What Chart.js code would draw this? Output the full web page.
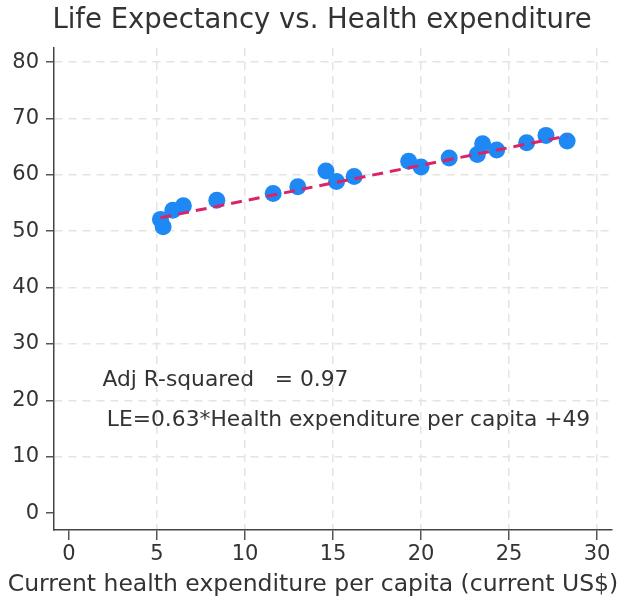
<!DOCTYPE html>
<html>
<head>
<meta charset="utf-8">
<script src="https://cdn.jsdelivr.net/npm/chart.js@4.4.0/dist/chart.umd.min.js"></script>
<style>
    html, body { margin: 0; padding: 0; background: #fff; }
    #wrap { width: 625px; height: 600px; }
</style>
</head>
<body>
<div id="wrap"><canvas id="chart" width="625" height="600"></canvas></div>
<script>
const healthSpend = [5.2, 5.35, 5.9, 6.5, 8.4, 11.6, 13.0, 14.6, 15.2, 16.2, 19.3, 20.0, 21.6, 23.2, 23.5, 24.3, 26.0, 27.1, 28.3];
const lifeExp     = [52.1, 50.8, 53.7, 54.5, 55.5, 56.7, 57.9, 60.7, 58.8, 59.7, 62.4, 61.4, 63.0, 63.6, 65.5, 64.4, 65.7, 67.0, 66.0];

const fitX = [5.2, 28.3];
const fitY = [52.4, 66.9];

const xTicks = [0, 5, 10, 15, 20, 25, 30];
const yTicks = [0, 10, 20, 30, 40, 50, 60, 70, 80];

const titleText  = 'Life Expectancy vs. Health expenditure';
const xTitleText = 'Current health expenditure per capita (current US$)';
const noteLines  = ['Adj R-squared   = 0.97', 'LE=0.63*Health expenditure per capita +49'];

const FONT = '"DejaVu Sans", sans-serif';
const TEXT = '#333';

const gridColor = ctx => (ctx.tick && ctx.tick.value === 0) ? 'rgba(0,0,0,0)' : '#e4e4e4';

// texts that sit outside chart.js's own title/axis boxes
const textPlugin = {
    id: 'texts',
    afterDraw(chart) {
        const { ctx, scales: { x, y } } = chart;
        ctx.save();
        ctx.fillStyle = TEXT;
        ctx.textBaseline = 'middle';
        ctx.textAlign = 'center';
        ctx.font = `27.5px ${FONT}`;
        ctx.fillText(titleText, 322, 21);
        ctx.font = `23.5px ${FONT}`;
        ctx.fillText(xTitleText, 313, 585);
        ctx.font = `21.8px ${FONT}`;
        ctx.textAlign = 'left';
        ctx.fillText(noteLines[0], x.getPixelForValue(1.9), y.getPixelForValue(23.6));
        ctx.fillText(noteLines[1], x.getPixelForValue(2.15), y.getPixelForValue(16.5));
        ctx.restore();
    }
};

new Chart(document.getElementById('chart'), {
    type: 'scatter',
    data: {
        datasets: [
            {
                label: 'Fit',
                data: fitX.map((v, i) => ({ x: v, y: fitY[i] })),
                showLine: true,
                borderColor: '#d9246a',
                borderWidth: 3,
                borderDash: [11, 7],
                pointRadius: 0,
                order: 0,
            },
            {
                label: 'Countries',
                data: healthSpend.map((v, i) => ({ x: v, y: lifeExp[i] })),
                backgroundColor: '#1e88f5',
                borderColor: '#1e88f5',
                pointRadius: 8.5,
                borderWidth: 0,
                order: 1,
            },
        ]
    },
    options: {
        responsive: false,
        animation: false,
        layout: { padding: { top: 48, right: 13, left: 0, bottom: 0 } },
        plugins: {
            legend: { display: false },
            tooltip: { enabled: false },
            title: { display: false },
        },
        scales: {
            x: {
                type: 'linear',
                min: -0.85, max: 30.85,
                afterBuildTicks: s => { s.ticks = xTicks.map(v => ({ value: v })); },
                afterFit: s => { s.height = 70; },
                grid: { color: gridColor, lineWidth: 1.5, tickColor: '#555', tickLength: 10, tickWidth: 1.5 },
                border: { color: '#444', width: 1.5, dash: [8, 6] },
                ticks: { color: TEXT, font: { family: FONT, size: 21 }, padding: 2, maxRotation: 0, autoSkip: false },
            },
            y: {
                type: 'linear',
                min: -3, max: 82.5,
                afterBuildTicks: s => { s.ticks = yTicks.map(v => ({ value: v })); },
                afterFit: s => { s.width = 54; },
                grid: { color: gridColor, lineWidth: 1.5, tickColor: '#555', tickLength: 8, tickWidth: 1.5 },
                border: { color: '#444', width: 1.5, dash: [8, 6] },
                ticks: { color: TEXT, font: { family: FONT, size: 21 }, padding: 7, autoSkip: false },
            }
        }
    },
    plugins: [textPlugin]
});
</script>
</body>
</html>
